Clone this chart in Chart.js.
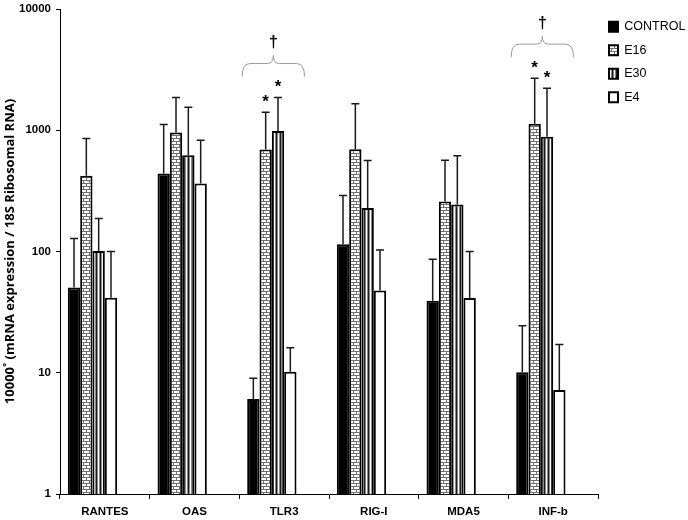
<!DOCTYPE html>
<html><head><meta charset="utf-8">
<script src="https://cdn.jsdelivr.net/npm/chart.js@4/dist/chart.umd.min.js"></script>
<style>html,body{margin:0;padding:0;background:#fff}#wrap{width:688px;height:520px;position:relative}</style>
</head><body><div id="wrap"><canvas id="c" width="688" height="520"></canvas></div>
<script>
const categories = ['RANTES','OAS','TLR3','RIG-I','MDA5','INF-b'];
const seriesNames = ['CONTROL','E16','E30','E4'];
const controlMean = [50.6, 440, 6.07, 115, 39.2, 10.1];
const controlErr  = [128, 1117, 9.0, 290, 86.5, 24.4];
const e16Mean = [421, 959, 695, 698, 258, 1130];
const e16Err  = [855, 1862, 1410, 1651, 567, 2690];
const e30Mean = [101, 623, 984, 229, 244, 883];
const e30Err  = [187, 1550, 1862, 563, 615, 2223];
const e4Mean = [41.5, 364, 10.2, 47.8, 41.3, 7.2];
const e4Err  = [100, 828, 16.1, 103, 100, 17.1];
const yTicks = [1, 10, 100, 1000, 10000];
const asteriskMarks = [['TLR3', 1], ['TLR3', 2], ['INF-b', 1], ['INF-b', 2]];
const daggerGroups = ['TLR3', 'INF-b'];
const yTitle = '10000\u02DA (mRNA expression / 18S Ribosomal RNA)';

const canvas = document.getElementById('c');
const mainCtx = canvas.getContext('2d');

function brickPattern() {
  const c = document.createElement('canvas'); c.width = 6; c.height = 6;
  const x = c.getContext('2d');
  x.fillStyle = '#707070'; x.fillRect(0, 0, 6, 6);
  x.fillStyle = '#ffffff';
  x.fillRect(0, 1, 5, 2);
  x.fillRect(3, 4, 3, 2); x.fillRect(0, 4, 2, 2);
  return mainCtx.createPattern(c, 'repeat');
}
function stripePattern() {
  const c = document.createElement('canvas'); c.width = 4; c.height = 4;
  const x = c.getContext('2d');
  const cols = ['#1a1a1a', '#888888', '#ffffff', '#888888'];
  cols.forEach((col, i) => { x.fillStyle = col; x.fillRect(i, 0, 1, 4); });
  return mainCtx.createPattern(c, 'repeat');
}

const means = [controlMean, e16Mean, e30Mean, e4Mean];
const errs = [controlErr, e16Err, e30Err, e4Err];
const fills = ['#000000', brickPattern(), stripePattern(), '#ffffff'];

const datasets = seriesNames.map((name, i) => ({
  label: name,
  data: means[i],
  backgroundColor: fills[i],
  borderColor: '#000000',
  borderWidth: 2,
  borderSkipped: 'bottom'
}));
// two empty slots (as in the original spreadsheet layout)
for (let k = 0; k < 2; k++) {
  datasets.push({ label: '', data: categories.map(() => null), backgroundColor: 'rgba(0,0,0,0)', borderWidth: 0 });
}

const errorBars = {
  id: 'errorBars',
  afterDatasetsDraw(chart) {
    const ctx = chart.ctx, y = chart.scales.y;
    ctx.save();
    ctx.strokeStyle = '#1a1a1a'; ctx.lineWidth = 1.5;
    errs.forEach((arr, di) => {
      chart.getDatasetMeta(di).data.forEach((el, i) => {
        const yt = y.getPixelForValue(arr[i]);
        ctx.beginPath();
        ctx.moveTo(el.x, el.y); ctx.lineTo(el.x, yt);
        ctx.moveTo(el.x - 4, yt); ctx.lineTo(el.x + 4, yt);
        ctx.stroke();
      });
    });
    // asterisks
    ctx.fillStyle = '#000'; ctx.font = 'bold 17px "Liberation Sans", Arial';
    ctx.textAlign = 'center'; ctx.textBaseline = 'middle';
    asteriskMarks.forEach(([cat, di]) => {
      const i = categories.indexOf(cat);
      const el = chart.getDatasetMeta(di).data[i];
      ctx.fillText('*', el.x, y.getPixelForValue(errs[di][i]) - 10);
    });
    // braces and daggers
    daggerGroups.forEach(cat => {
      const i = categories.indexOf(cat);
      const first = chart.getDatasetMeta(0).data[i];
      const last = chart.getDatasetMeta(3).data[i];
      const x0 = first.x - first.width / 2 - 5;
      const x1 = last.x + last.width / 2 + 8;
      const xc = (x0 + x1) / 2;
      let top = Infinity;
      errs.forEach(arr => { top = Math.min(top, y.getPixelForValue(arr[i])); });
      const yl = top - 34;
      ctx.strokeStyle = '#9a9a9a'; ctx.lineWidth = 1;
      ctx.beginPath();
      ctx.moveTo(x0, yl + 13);
      ctx.quadraticCurveTo(x0, yl, x0 + 8, yl);
      ctx.lineTo(xc - 6, yl);
      ctx.quadraticCurveTo(xc, yl, xc, yl - 8);
      ctx.quadraticCurveTo(xc, yl, xc + 6, yl);
      ctx.lineTo(x1 - 8, yl);
      ctx.quadraticCurveTo(x1, yl, x1, yl + 13);
      ctx.stroke();
      ctx.fillStyle = '#000'; ctx.font = 'bold 16px "Liberation Sans", Arial';
      ctx.fillText('\u2020', xc, yl - 21);
    });
    ctx.restore();
  }
};

new Chart(canvas, {
  type: 'bar',
  data: { labels: categories, datasets },
  options: {
    responsive: false,
    animation: false,
    devicePixelRatio: 1,
    layout: { padding: { top: 6, right: 0, bottom: 0, left: 0 } },
    datasets: { bar: { categoryPercentage: 0.825, barPercentage: 1.0 } },
    plugins: {
      legend: {
        position: 'right', align: 'start', maxWidth: 90,
        title: { display: true, text: '', padding: 0, font: { size: 3 } },
        labels: {
          boxWidth: 9, boxHeight: 10, padding: 11, color: '#000',
          font: { family: '"Liberation Sans", Arial', size: 12.5 },
          filter: item => item.text !== ''
        }
      },
      tooltip: { enabled: false }
    },
    scales: {
      x: {
        afterFit(s) { s.height = 26; },
        grid: { offset: true, drawOnChartArea: false, drawTicks: true, tickLength: 5, color: '#000' },
        border: { display: true, color: '#000', width: 1 },
        ticks: { color: '#000', padding: 6, font: { family: '"Liberation Sans", Arial', size: 11.5, weight: 'bold' } }
      },
      y: {
        type: 'logarithmic', min: 1, max: 10000,
        afterBuildTicks(s) { s.ticks = yTicks.map(v => ({ value: v, major: true })); },
        afterFit(s) { s.width = 60; },
        grid: { drawOnChartArea: false, drawTicks: true, tickLength: 4, color: '#000' },
        border: { display: true, color: '#000', width: 1 },
        ticks: { color: '#000', padding: 5, autoSkip: false, callback: v => String(v),
                 font: { family: '"Liberation Sans", Arial', size: 11.5, weight: 'bold', lineHeight: 0.7 } },
        title: { display: true, text: yTitle, color: '#000', padding: { top: 2, bottom: 0 },
                 font: { family: '"Open Sans", "Liberation Sans"', size: 13, weight: 'bold' } }
      }
    }
  },
  plugins: [errorBars]
});
</script></body></html>
